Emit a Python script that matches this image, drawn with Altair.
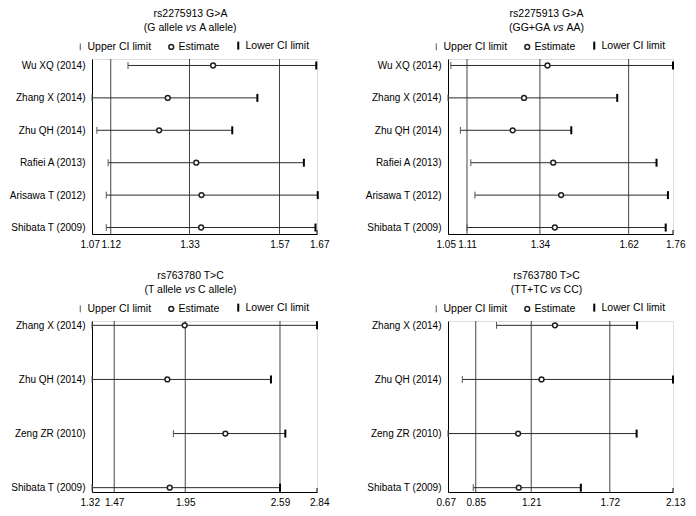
import altair as alt
import pandas as pd

FONT = "Liberation Sans"
FS = 10.5

LEG = ["Upper CI limit", "Estimate", "Lower CI limit"]

# ---- panel 1: rs2275913 G>A (G allele vs A allele)
p1_title = "rs2275913 G>A"
p1_sub = ["(G allele", "vs", "A allele)"]
p1_studies = ["Wu XQ (2014)", "Zhang X (2014)", "Zhu QH (2014)", "Rafiei A (2013)",
              "Arisawa T (2012)", "Shibata T (2009)"]
p1_lower = [1.166, 1.070, 1.083, 1.113, 1.108, 1.108]
p1_est = [1.393, 1.272, 1.249, 1.348, 1.362, 1.361]
p1_upper = [1.668, 1.511, 1.444, 1.635, 1.672, 1.666]
p1_ticks = [1.07, 1.12, 1.33, 1.57, 1.67]

# ---- panel 2: rs2275913 G>A (GG+GA vs AA)
p2_title = "rs2275913 G>A"
p2_sub = ["(GG+GA", "vs", "AA)"]
p2_studies = ["Wu XQ (2014)", "Zhang X (2014)", "Zhu QH (2014)", "Rafiei A (2013)",
              "Arisawa T (2012)", "Shibata T (2009)"]
p2_lower = [1.059, 1.050, 1.089, 1.122, 1.135, 1.110]
p2_est = [1.364, 1.290, 1.254, 1.382, 1.407, 1.387]
p2_upper = [1.760, 1.584, 1.439, 1.708, 1.744, 1.737]
p2_ticks = [1.05, 1.11, 1.34, 1.62, 1.76]

# ---- panel 3: rs763780 T>C (T allele vs C allele)
p3_title = "rs763780 T>C"
p3_sub = ["(T allele", "vs", "C allele)"]
p3_studies = ["Zhang X (2014)", "Zhu QH (2014)", "Zeng ZR (2010)", "Shibata T (2009)"]
p3_lower = [1.320, 1.320, 1.870, 1.320]
p3_est = [1.946, 1.829, 2.221, 1.845]
p3_upper = [2.840, 2.529, 2.626, 2.590]
p3_ticks = [1.32, 1.47, 1.95, 2.59, 2.84]

# ---- panel 4: rs763780 T>C (TT+TC vs CC)
p4_title = "rs763780 T>C"
p4_sub = ["(TT+TC", "vs", "CC)"]
p4_studies = ["Zhang X (2014)", "Zhu QH (2014)", "Zeng ZR (2010)", "Shibata T (2009)"]
p4_lower = [0.985, 0.763, 0.670, 0.834]
p4_est = [1.364, 1.277, 1.125, 1.129]
p4_upper = [1.897, 2.130, 1.894, 1.532]
p4_ticks = [0.67, 0.85, 1.21, 1.72, 2.13]

# Arial / Liberation Sans advance widths (per 1000 em) for centring the subtitle pieces
AW = {" ": 278, "(": 333, ")": 333, "+": 584, "A": 667, "C": 722, "G": 778, "T": 611,
      "a": 556, "e": 556, "l": 222, "s": 500, "v": 500}


def tw(s):
    return sum(AW.get(c, 556) for c in s) / 1000.0 * FS


SYM = 36  # symbol box 6px -> 3px per path unit
THIN = "M0,-1.15L0,1.15"
CIRCLE = "M-0.8,0A0.8,0.8 0 1,0 0.8,0A0.8,0.8 0 1,0 -0.8,0"
THICK = "M0,-1.33L0,1.33"

TXT = "#000"


def panel(studies, lower, est, upper, ticks, title, sub, height, pad):
    n = len(studies)
    df = pd.DataFrame({"study": studies, "lower": lower, "est": est, "upper": upper})
    marks = pd.DataFrame({
        "study": studies * 3,
        "value": lower + est + upper,
        "type": [LEG[0]] * n + [LEG[1]] * n + [LEG[2]] * n,
    })
    xs = alt.Scale(domain=[ticks[0], ticks[-1]], nice=False, zero=False)
    xaxis = alt.Axis(title=None, values=ticks, format=".2f", ticks=False, grid=False,
                     labelOverlap=False, labelFlush=True, labelFlushOffset=12,
                     domainColor="#000", domainWidth=1, labelPadding=5)
    ys = alt.Scale(type="point", padding=pad)
    yenc = alt.Y("study:N", sort=studies, scale=ys,
                 axis=alt.Axis(title=None, ticks=False, grid=False, domainColor="#000",
                               domainWidth=1, labelPadding=7))

    leg = alt.Legend(orient="none", legendX=-17, legendY=-19, direction="horizontal",
                     title=None, symbolSize=SYM, labelOffset=2, columnPadding=13,
                     padding=0, labelFont=FONT, labelFontSize=FS, labelColor=TXT)

    grid = alt.Chart(pd.DataFrame({"g": ticks[1:-1]})).mark_rule(
        color="#444", strokeWidth=1).encode(x=alt.X("g:Q", scale=xs, axis=xaxis))
    endtick = alt.Chart(pd.DataFrame({"t": ticks[-1:]})).mark_rule(
        color="#000", strokeWidth=1).encode(
        x=alt.X("t:Q", scale=xs, axis=xaxis),
        y=alt.value(height - 4), y2=alt.value(height))
    bars = alt.Chart(df).mark_rule(color="#2a2a2a", strokeWidth=1).encode(
        x=alt.X("lower:Q", scale=xs, axis=xaxis), x2="upper:Q", y=yenc)
    pts = alt.Chart(marks).mark_point(filled=True, fill="white", opacity=1, size=SYM).encode(
        x=alt.X("value:Q", scale=xs, axis=xaxis),
        y=yenc,
        shape=alt.Shape("type:N", scale=alt.Scale(domain=LEG, range=[THIN, CIRCLE, THICK]),
                        legend=leg),
        stroke=alt.Stroke("type:N", scale=alt.Scale(domain=LEG, range=["#555", "#222", "#000"]),
                          legend=leg),
        strokeWidth=alt.StrokeWidth("type:N",
                                    scale=alt.Scale(type="point", domain=LEG, range=[1, 2],
                                                    padding=0),
                                    legend=leg),
    )

    cx = 98.5
    t1 = alt.Chart(pd.DataFrame({"t": [title]})).mark_text(
        font=FONT, fontSize=FS, align="center", baseline="middle", color=TXT).encode(
        text="t:N", x=alt.value(cx), y=alt.value(-45))
    w_left = tw(sub[0] + " ")
    w_vs = tw(sub[1])
    w_right = tw(" " + sub[2])
    start = cx - (w_left + w_vs + w_right) / 2
    y2 = -31.5
    s1 = alt.Chart(pd.DataFrame({"t": [sub[0]]})).mark_text(
        font=FONT, fontSize=FS, align="left", baseline="middle", color=TXT).encode(
        text="t:N", x=alt.value(start), y=alt.value(y2))
    s2 = alt.Chart(pd.DataFrame({"t": [sub[1]]})).mark_text(
        font=FONT, fontSize=FS, fontStyle="italic", align="left", baseline="middle",
        color=TXT).encode(text="t:N", x=alt.value(start + w_left), y=alt.value(y2))
    s3 = alt.Chart(pd.DataFrame({"t": [sub[2]]})).mark_text(
        font=FONT, fontSize=FS, align="left", baseline="middle", color=TXT).encode(
        text="t:N", x=alt.value(start + w_left + w_vs + tw(" ")), y=alt.value(y2))

    return alt.layer(grid, endtick, bars, pts, t1, s1, s2, s3).properties(
        width=225, height=height)


c1 = panel(p1_studies, p1_lower, p1_est, p1_upper, p1_ticks, p1_title, p1_sub, 175, 0.2)
c2 = panel(p2_studies, p2_lower, p2_est, p2_upper, p2_ticks, p2_title, p2_sub, 175, 0.2)
c3 = panel(p3_studies, p3_lower, p3_est, p3_upper, p3_ticks, p3_title, p3_sub, 171, 0.08)
c4 = panel(p4_studies, p4_lower, p4_est, p4_upper, p4_ticks, p4_title, p4_sub, 171, 0.08)

chart = alt.concat(c1, c2, c3, c4, columns=2, spacing={"row": 87, "column": 131},
                   bounds="flush").resolve_scale(
    x="independent", y="independent", shape="independent", stroke="independent",
    strokeWidth="independent").resolve_legend(
    shape="independent", stroke="independent", strokeWidth="independent").configure_view(
    stroke=None).configure_axis(
    labelFont=FONT, labelFontSize=FS, labelColor=TXT).configure(
    padding={"left": 0, "top": 0, "right": 2, "bottom": 0}, background="white")

chart.save("out.html", embed_options={"renderer": "svg", "actions": False})
